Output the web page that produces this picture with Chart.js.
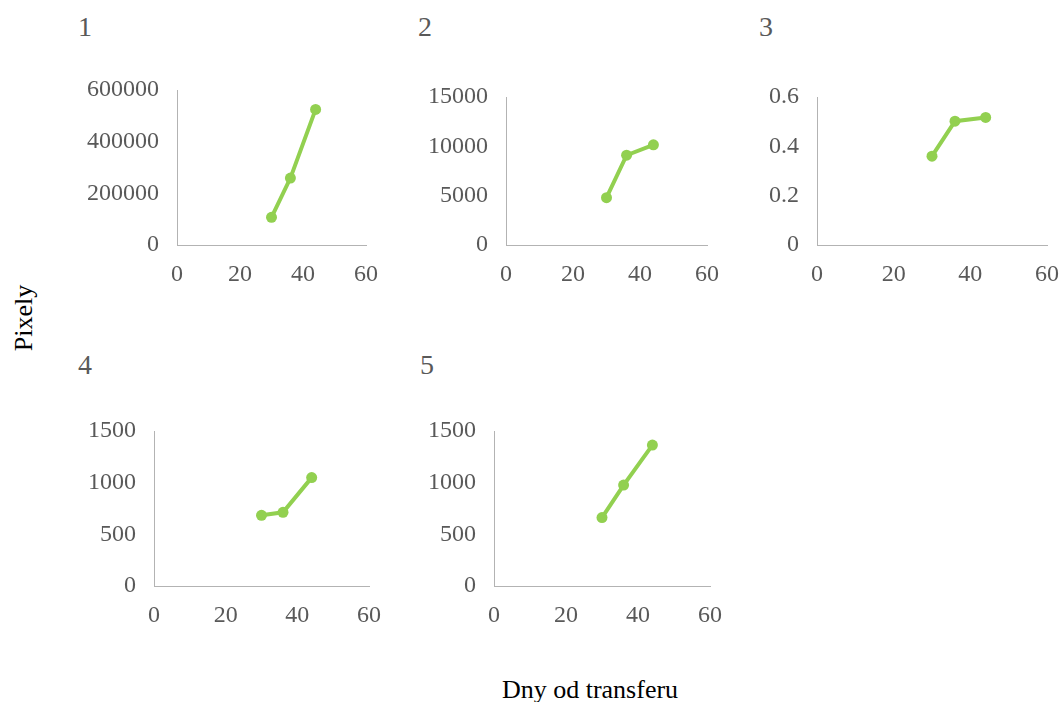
<!DOCTYPE html>
<html>
<head>
<meta charset="utf-8">
<script src="https://cdn.jsdelivr.net/npm/chart.js@4/dist/chart.umd.min.js"></script>
<style>
  html, body { margin: 0; padding: 0; background: #fff; }
  body { width: 1062px; height: 702px; position: relative; overflow: hidden; font-family: "Liberation Serif", "DejaVu Serif", serif; }
  .wrap { position: absolute; }
  .num { position: absolute; font-size: 28px; line-height: 28px; color: #595959; }
  .lab { position: absolute; font-size: 26px; line-height: 26px; color: #000; white-space: nowrap; }
</style>
</head>
<body>
<script>
// ---- data ----
const days = [30, 36, 44];
const xTicks = [0, 20, 40, 60];
const panelTitles = ["1", "2", "3", "4", "5"];
const series1 = [107000, 259000, 525000];
const series2 = [4800, 9100, 10150];
const series3 = [0.36, 0.502, 0.517];
const series4 = [684, 713, 1049];
const series5 = [662, 977, 1364];
const yTicks1 = [0, 200000, 400000, 600000];
const yTicks2 = [0, 5000, 10000, 15000];
const yTicks3 = [0, 0.2, 0.4, 0.6];
const yTicks4 = [0, 500, 1000, 1500];
const yTicks5 = [0, 500, 1000, 1500];
const xAxisTitle = "Dny od transferu";
const yAxisTitle = "Pixely";

// ---- layout (plot areas in page pixels) ----
const panels = [
  { title: panelTitles[0], data: series1, yTicks: yTicks1, area: { l: 177, r: 366, t: 90, b: 245 }, titlePos: { x: 78, y: 13 } },
  { title: panelTitles[1], data: series2, yTicks: yTicks2, area: { l: 506, r: 707, t: 97, b: 245 }, titlePos: { x: 418, y: 13 } },
  { title: panelTitles[2], data: series3, yTicks: yTicks3, area: { l: 817, r: 1047, t: 97, b: 245 }, titlePos: { x: 759, y: 13 } },
  { title: panelTitles[3], data: series4, yTicks: yTicks4, area: { l: 154, r: 369, t: 431, b: 586 }, titlePos: { x: 78, y: 351 } },
  { title: panelTitles[4], data: series5, yTicks: yTicks5, area: { l: 494, r: 710, t: 431, b: 586 }, titlePos: { x: 420, y: 351 } }
];

const YW = 110, XH = 45, PT = 16, PR = 14;
const FONT = 24;
const GREEN = "#92D050";
const TICK = "#595959";
const AXIS = "#b3b3b3";

panels.forEach((p, i) => {
  const a = p.area;
  const w = (a.r - a.l) + YW + PR;
  const h = (a.b - a.t) + PT + XH;
  const div = document.createElement("div");
  div.className = "wrap";
  div.style.left = (a.l - YW) + "px";
  div.style.top = (a.t - PT) + "px";
  div.style.width = w + "px";
  div.style.height = h + "px";
  const c = document.createElement("canvas");
  c.width = w; c.height = h;
  c.style.width = w + "px"; c.style.height = h + "px";
  div.appendChild(c);
  document.body.appendChild(div);

  const t = document.createElement("div");
  t.className = "num";
  t.textContent = p.title;
  t.style.left = p.titlePos.x + "px";
  t.style.top = p.titlePos.y + "px";
  document.body.appendChild(t);

  const yt = p.yTicks;
  new Chart(c, {
    type: "scatter",
    data: {
      datasets: [{
        data: days.map((d, k) => ({ x: d, y: p.data[k] })),
        showLine: true,
        borderColor: GREEN,
        backgroundColor: GREEN,
        borderWidth: 4,
        pointRadius: 5.5,
        pointBorderWidth: 0,
        pointHoverRadius: 5.5
      }]
    },
    options: {
      responsive: false,
      animation: false,
      events: [],
      layout: { padding: { top: PT, right: PR, left: 0, bottom: 0 } },
      plugins: { legend: { display: false }, tooltip: { enabled: false }, title: { display: false } },
      scales: {
        x: {
          type: "linear",
          min: 0, max: 60,
          afterBuildTicks: s => { s.ticks = xTicks.map(v => ({ value: v })); },
          afterFit: s => { s.height = XH; s.paddingLeft = 0; s.paddingRight = 0; },
          grid: { display: false, drawTicks: false },
          border: { display: true, color: AXIS, width: 1 },
          ticks: { color: TICK, padding: 15, maxRotation: 0, autoSkip: false, font: { family: "Liberation Serif", size: FONT }, callback: v => String(v) }
        },
        y: {
          type: "linear",
          min: 0, max: yt[yt.length - 1],
          afterBuildTicks: s => { s.ticks = yt.map(v => ({ value: v })); },
          afterFit: s => { s.width = YW; s.paddingTop = 0; s.paddingBottom = 0; },
          grid: { display: false, drawTicks: false },
          border: { display: true, color: AXIS, width: 1 },
          ticks: { color: TICK, padding: 18, autoSkip: false, font: { family: "Liberation Serif", size: FONT }, callback: v => String(v) }
        }
      }
    }
  });
});

const yl = document.createElement("div");
yl.className = "lab";
yl.textContent = yAxisTitle;
yl.style.left = "24px"; yl.style.top = "318px";
yl.style.transform = "translate(-50%, -50%) rotate(-90deg)";
document.body.appendChild(yl);

const xl = document.createElement("div");
xl.className = "lab";
xl.textContent = xAxisTitle;
xl.style.left = "590px"; xl.style.top = "690px";
xl.style.transform = "translate(-50%, -50%)";
document.body.appendChild(xl);
</script>
</body>
</html>
